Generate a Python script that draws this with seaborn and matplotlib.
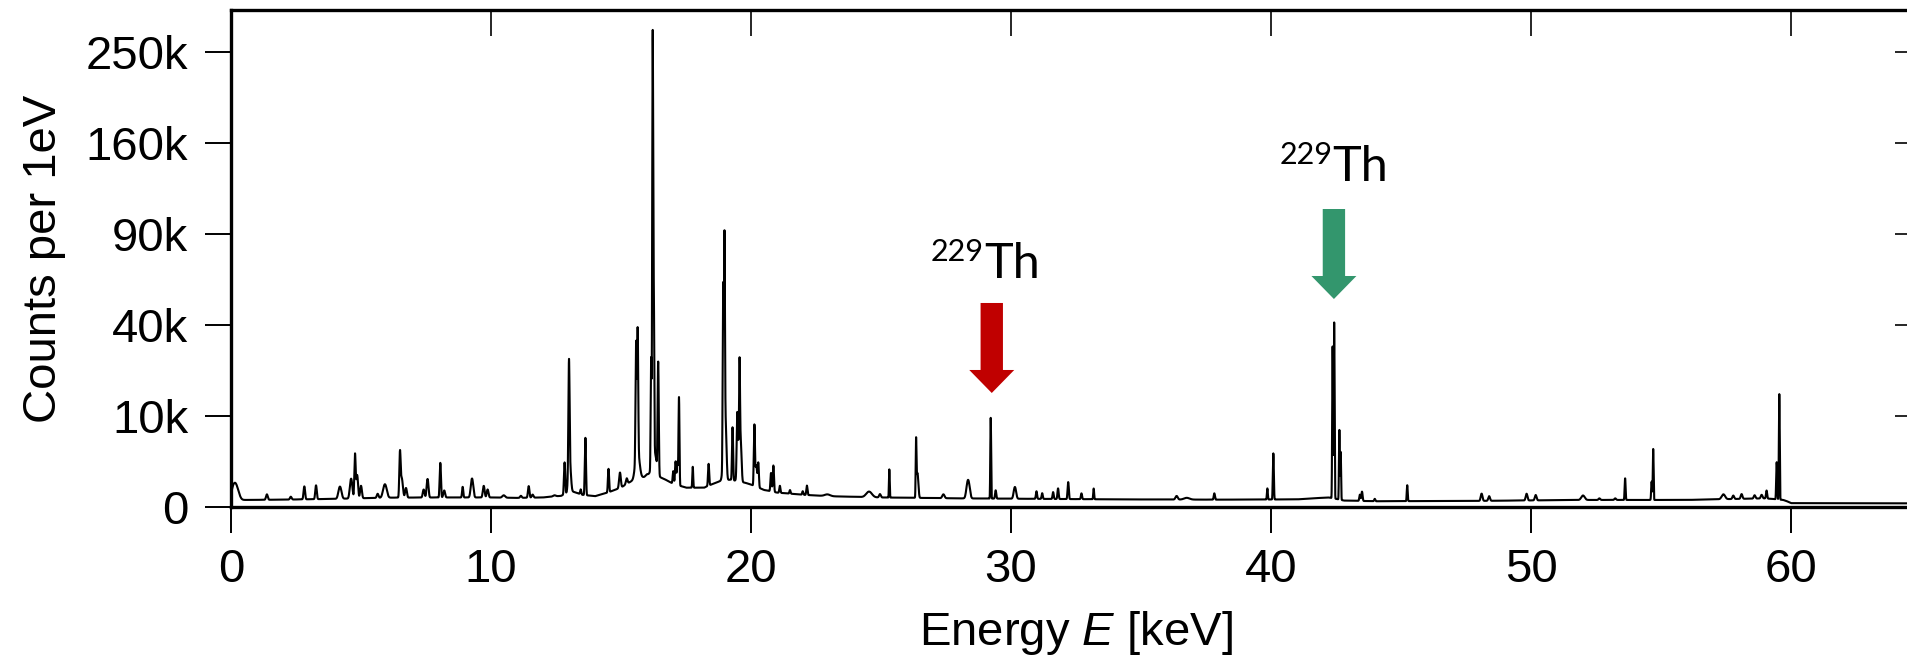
import numpy as np
import pandas as pd
import matplotlib
matplotlib.use("Agg")
import matplotlib.pyplot as plt
from matplotlib.patches import Polygon
from matplotlib.ticker import FixedLocator
import seaborn as sns

# ---------------------------------------------------------------------------
# Spectrum lines: centre energy [keV], net height [counts per 1 eV], width [keV]
# ---------------------------------------------------------------------------
peak_energy = [
    0.15, 1.38, 2.30, 2.82, 3.27, 4.19, 4.62, 4.77, 4.85, 5.00,
    5.64, 5.92, 6.50, 6.56, 6.73, 7.41, 7.56, 8.05, 8.20, 8.91,
    9.27, 9.72, 9.87, 10.49, 11.15, 11.45, 11.60, 12.44, 12.83, 13.00,
    13.02, 13.45, 13.63, 14.52, 14.96, 15.22, 15.58, 15.64, 15.63, 16.16,
    16.22, 16.26, 16.28, 16.43, 17.01, 17.10, 17.17, 17.23, 17.76, 18.37,
    18.93, 18.98, 18.97, 19.02, 19.29, 19.47, 19.52, 19.56, 19.60, 20.13,
    20.20, 20.28, 20.77, 20.86, 21.11, 21.50, 21.99, 22.15, 22.94, 24.54,
    24.96, 25.32, 26.35, 26.40, 27.40, 28.35, 29.22, 29.41, 30.15, 30.98,
    31.20, 31.62, 31.81, 32.20, 32.71, 33.18, 36.37, 36.76, 37.82, 39.86,
    40.09, 42.37, 42.43, 42.63, 42.68, 43.42, 43.50, 43.99, 45.24, 48.10,
    48.39, 49.83, 50.18, 52.00, 52.63, 53.24, 53.62, 54.64, 54.70, 57.40,
    57.78, 58.10, 58.60, 58.87, 59.06, 59.45, 59.55,
]
peak_counts = [
    650, 130, 60, 440, 490, 420, 880, 3350, 1150, 450,
    110, 520, 3500, 950, 330, 260, 840, 2240, 220, 380,
    870, 430, 260, 60, 50, 420, 80, 30, 2200, 24000,
    2500, 180, 5600, 1500, 1000, 350, 30000, 35000, 3000, 25000,
    270000, 52000, 2500, 24000, 900, 1900, 1900, 14000, 1500, 1700,
    58000, 86000, 2500, 7000, 6800, 8200, 4000, 22000, 4500, 7600,
    1600, 1900, 1100, 1800, 300, 130, 120, 380, 50, 170,
    90, 1600, 5450, 1300, 100, 800, 9500, 250, 400, 220,
    150, 190, 340, 670, 150, 340, 80, 35, 160, 350,
    3400, 31000, 41000, 7100, 3600, 140, 240, 40, 530, 170,
    95, 160, 120, 100, 30, 30, 930, 720, 4000, 120,
    80, 120, 80, 90, 240, 2350, 15300,
]
peak_sigma = [
    0.10, 0.03, 0.03, 0.025, 0.025, 0.05, 0.04, 0.02, 0.03, 0.03,
    0.03, 0.06, 0.02, 0.04, 0.03, 0.03, 0.03, 0.02, 0.03, 0.02,
    0.04, 0.03, 0.03, 0.05, 0.03, 0.025, 0.03, 0.05, 0.02, 0.018,
    0.04, 0.02, 0.018, 0.02, 0.03, 0.03, 0.018, 0.018, 0.07, 0.015,
    0.015, 0.015, 0.08, 0.018, 0.02, 0.02, 0.02, 0.015, 0.015, 0.02,
    0.015, 0.015, 0.05, 0.03, 0.018, 0.018, 0.04, 0.015, 0.03, 0.018,
    0.03, 0.02, 0.02, 0.02, 0.02, 0.02, 0.02, 0.02, 0.10, 0.10,
    0.03, 0.012, 0.012, 0.03, 0.04, 0.05, 0.012, 0.02, 0.04, 0.02,
    0.02, 0.02, 0.02, 0.02, 0.02, 0.015, 0.04, 0.10, 0.02, 0.015,
    0.015, 0.012, 0.012, 0.012, 0.012, 0.02, 0.02, 0.02, 0.015, 0.03,
    0.03, 0.03, 0.03, 0.06, 0.03, 0.03, 0.015, 0.015, 0.012, 0.06,
    0.03, 0.03, 0.03, 0.03, 0.02, 0.015, 0.012,
]

# Continuum under the lines
background_energy = [
    0.0, 0.08, 0.5, 2.0, 4.0, 6.0, 8.0, 10.0, 11.0, 12.0,
    12.7, 13.1, 13.5, 14.0, 14.5, 15.0, 15.4, 15.9, 16.0, 16.6,
    17.0, 17.5, 18.2, 18.8, 19.2, 19.8, 20.5, 21.0, 22.0, 23.0,
    25.0, 28.0, 31.0, 34.0, 38.0, 41.0, 42.2, 42.8, 44.0, 48.0,
    52.0, 56.0, 59.0, 59.7, 60.0, 65.0,
]
background_counts = [
    0, 60, 60, 65, 80, 105, 110, 110, 100, 110,
    150, 300, 180, 140, 250, 450, 800, 1100, 1300, 1000,
    650, 450, 450, 800, 900, 700, 350, 250, 180, 140,
    110, 90, 80, 70, 65, 70, 110, 50, 40, 45,
    60, 60, 90, 60, 18, 16,
]

x_ticks = [0, 10, 20, 30, 40, 50, 60]
y_ticks = [0, 10000, 40000, 90000, 160000, 250000]
y_tick_labels = ["0", "10k", "40k", "90k", "160k", "250k"]

# Highlighted 229Th lines
marker_energy = [29.26, 42.42]
marker_label_x = [28.96, 42.37]
marker_top = [0.4105, 0.5996]          # arrow tail, axes fraction
marker_label_base = [0.4608, 0.6560]   # label baseline, axes fraction
marker_colors = ["#C00000", "#33966D"]
marker_text = ("229", "Th")

# ---------------------------------------------------------------------------
energy = np.arange(0.0, 65.0, 0.002)
spectrum = np.interp(energy, background_energy, background_counts).astype(float)
for e0, h, s in zip(peak_energy, peak_counts, peak_sigma):
    spectrum += h * np.exp(-0.5 * ((energy - e0) / s) ** 2)
df = pd.DataFrame({"energy": energy, "counts": spectrum})

sns.set_theme(style="ticks")
plt.rcParams["font.family"] = ["Liberation Sans", "DejaVu Sans"]
plt.rcParams["mathtext.fontset"] = "custom"
plt.rcParams["mathtext.rm"] = "Liberation Sans"
plt.rcParams["mathtext.it"] = "Liberation Sans:italic"

fig = plt.figure(figsize=(19.08, 6.58), dpi=100)
ax = fig.add_axes([231 / 1908, 151 / 658, 1690 / 1908, 497 / 658])


def _sqrt(v):
    return np.sqrt(np.clip(v, 0, None))


ax.set_yscale("function", functions=(_sqrt, np.square))

sns.lineplot(data=df, x="energy", y="counts", ax=ax, color="black",
             linewidth=1.5, estimator=None, sort=False)

ax.set_xlim(0, 65)
ax.set_ylim(0, 298000)

ax.set_xticks(x_ticks)
ax.set_xticklabels([str(t) for t in x_ticks])
ax.set_yticks(y_ticks)
ax.set_yticklabels(y_tick_labels)

# inward ticks on the opposite sides
ax.xaxis.remove_overlapping_locs = False
ax.yaxis.remove_overlapping_locs = False
ax.xaxis.set_minor_locator(FixedLocator(x_ticks))
ax.yaxis.set_minor_locator(FixedLocator(y_ticks))

tick_len = 18.7
ax.tick_params(axis="x", which="major", direction="out", bottom=True, top=False,
               length=tick_len, width=1.4, labelsize=34, pad=11, colors="black")
ax.tick_params(axis="x", which="minor", direction="in", bottom=False, top=True,
               length=tick_len, width=1.4)
ax.tick_params(axis="y", which="major", direction="out", left=True, right=False,
               length=tick_len, width=1.4, labelsize=34, pad=12, colors="black")
ax.tick_params(axis="y", which="minor", direction="in", left=False, right=True,
               length=tick_len, width=1.4)

for sp in ax.spines.values():
    sp.set_linewidth(2.4)
    sp.set_color("black")
    sp.set_visible(True)

ax.set_xlabel("Energy $E$ [keV]", fontsize=34, labelpad=12, color="black")
ax.set_ylabel("Counts per 1eV", fontsize=34, labelpad=14, color="black")

# arrows and labels
trans = ax.get_xaxis_transform()
shaft_half = 0.43
head_half = 0.865
shaft_len = 0.1348
head_len = 0.0463
for e, lx, top, base, col in zip(marker_energy, marker_label_x, marker_top,
                                 marker_label_base, marker_colors):
    hb = top - shaft_len
    tip = hb - head_len
    verts = [(e - shaft_half, top), (e + shaft_half, top), (e + shaft_half, hb),
             (e + head_half, hb), (e, tip), (e - head_half, hb),
             (e - shaft_half, hb)]
    ax.add_patch(Polygon(verts, closed=True, facecolor=col, edgecolor="none",
                         transform=trans, clip_on=False, zorder=5))
    ax.text(lx, base + 0.034, marker_text[0], ha="right", va="baseline",
            fontsize=22, family=["Lato", "DejaVu Sans"], color="black",
            transform=trans)
    ax.text(lx, base, marker_text[1], ha="left", va="baseline",
            fontsize=35, family=["Lato", "DejaVu Sans"], color="black",
            transform=trans)

fig.savefig("out.png", dpi=100, facecolor="white")
